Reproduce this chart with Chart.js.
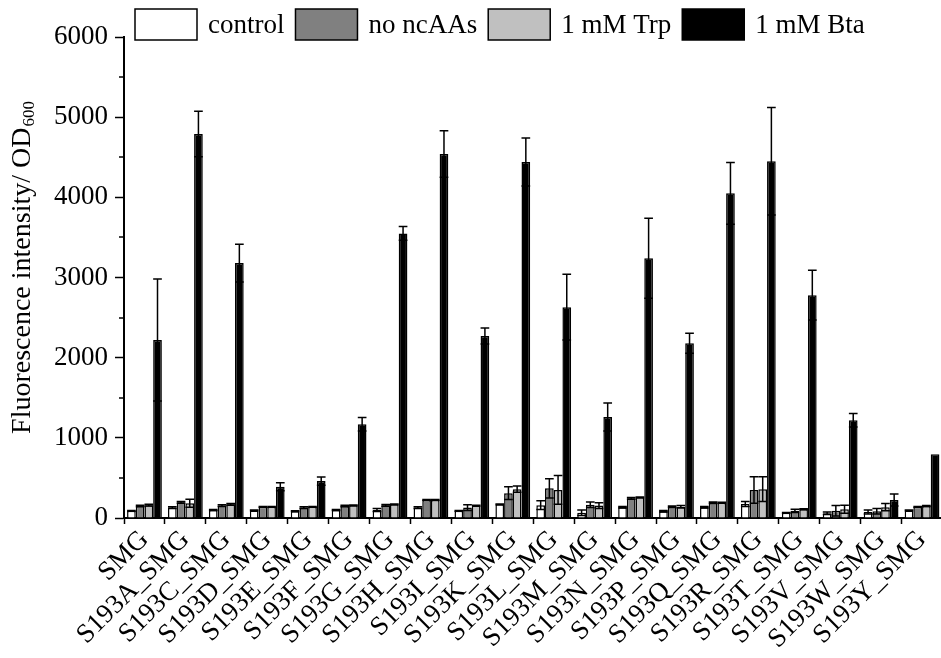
<!DOCTYPE html>
<html>
<head>
<meta charset="utf-8">
<script src="https://cdn.jsdelivr.net/npm/chart.js@4.4.1/dist/chart.umd.min.js"></script>
<style>
  html, body { margin: 0; padding: 0; background: #fff; overflow: hidden; }
  #wrap { width: 945px; height: 658px; }
</style>
</head>
<body>
<div id="wrap"><canvas id="myChart" width="945" height="658"></canvas></div>
<script>
const mutants = [
  "SMG", "S193A_SMG", "S193C_SMG", "S193D_SMG", "S193E_SMG",
  "S193F_SMG", "S193G_SMG", "S193H_SMG", "S193I_SMG", "S193K_SMG",
  "S193L_SMG", "S193M_SMG", "S193N_SMG", "S193P_SMG", "S193Q_SMG",
  "S193R_SMG", "S193T_SMG", "S193V_SMG", "S193W_SMG", "S193Y_SMG",
];
const yTicks = [0, 1000, 2000, 3000, 4000, 5000, 6000];

// fluorescence / OD600, mean and error per mutant
const control = [90, 130, 100, 95, 85, 100, 100, 130, 90, 170, 160, 65, 135, 85, 135, 175, 65, 60, 75, 95];
const controlErr = [5, 10, 5, 5, 5, 5, 20, 10, 5, 5, 55, 35, 10, 10, 10, 30, 5, 15, 25, 5];
const noNcaa = [150, 195, 155, 140, 130, 150, 158, 225, 130, 310, 370, 165, 245, 140, 190, 350, 90, 90, 85, 140];
const noNcaaErr = [10, 10, 10, 5, 10, 10, 10, 5, 35, 80, 120, 35, 10, 10, 10, 165, 20, 65, 35, 5];
const trp = [160, 185, 170, 140, 140, 158, 170, 225, 155, 360, 350, 155, 258, 140, 190, 360, 110, 110, 135, 150];
const trpErr = [10, 50, 10, 5, 5, 5, 5, 5, 5, 40, 180, 35, 5, 15, 5, 155, 5, 50, 45, 5];
const bta = [2220, 4790, 3180, 390, 460, 1170, 3550, 4540, 2270, 4440, 2630, 1260, 3240, 2180, 4050, 4450, 2780, 1220, 225, 795];
const btaErr = [760, 285, 235, 50, 50, 85, 85, 290, 100, 300, 410, 175, 500, 125, 385, 670, 310, 85, 75, 0];

const FONT = "'Liberation Serif', 'Times New Roman', serif";

// symmetric error bars with caps, drawn over every bar
const errorBars = {
  id: "errorBars",
  afterDatasetsDraw(chart) {
    const { ctx } = chart;
    const y = chart.scales.y;
    ctx.save();
    ctx.strokeStyle = "#000";
    ctx.lineWidth = 1.5;
    chart.data.datasets.forEach((ds, i) => {
      chart.getDatasetMeta(i).data.forEach((bar, j) => {
        const err = ds.errors[j];
        if (!err) return;
        const top = y.getPixelForValue(ds.data[j] + err);
        const bottom = y.getPixelForValue(ds.data[j] - err);
        const half = bar.width / 2;
        ctx.beginPath();
        ctx.moveTo(bar.x, top);
        ctx.lineTo(bar.x, bottom);
        ctx.moveTo(bar.x - half, top);
        ctx.lineTo(bar.x + half, top);
        ctx.moveTo(bar.x - half, bottom);
        ctx.lineTo(bar.x + half, bottom);
        ctx.stroke();
      });
    });
    ctx.restore();
  },
};

// small ticks between the labelled ones on the y axis
const minorTicks = {
  id: "minorTicks",
  afterDraw(chart) {
    const { ctx, chartArea } = chart;
    const y = chart.scales.y;
    ctx.save();
    ctx.strokeStyle = "#000";
    ctx.lineWidth = 1.5;
    for (let k = 0; k < yTicks.length - 1; k++) {
      const py = Math.round(y.getPixelForValue((yTicks[k] + yTicks[k + 1]) / 2));
      ctx.beginPath();
      ctx.moveTo(chartArea.left - 5, py);
      ctx.lineTo(chartArea.left, py);
      ctx.stroke();
    }
    ctx.restore();
  },
};

// legend row across the top, boxes with outlines
const legendRow = {
  id: "legendRow",
  afterDraw(chart) {
    const { ctx, chartArea } = chart;
    const w = 62, h = 31, top = 9, gap = 11;
    let x = chartArea.left + gap;
    ctx.save();
    ctx.font = "27px " + FONT;
    ctx.textBaseline = "middle";
    chart.data.datasets.forEach((ds) => {
      ctx.fillStyle = ds.backgroundColor;
      ctx.fillRect(x, top, w, h);
      ctx.strokeStyle = "#000";
      ctx.lineWidth = 1.5;
      ctx.strokeRect(x, top, w, h);
      x += w + gap;
      ctx.fillStyle = "#000";
      ctx.fillText(ds.label, x, top + h / 2 + 1);
      x += ctx.measureText(ds.label).width + gap;
    });
    ctx.restore();
  },
};

// y axis title with subscript
const yTitle = {
  id: "yTitle",
  afterDraw(chart) {
    const { ctx } = chart;
    const main = "Fluorescence intensity/ OD";
    const sub = "600";
    ctx.save();
    ctx.translate(23, 268);
    ctx.rotate(-Math.PI / 2);
    ctx.fillStyle = "#000";
    ctx.textBaseline = "middle";
    ctx.font = "28px " + FONT;
    const w1 = ctx.measureText(main).width;
    ctx.font = "17px " + FONT;
    const w2 = ctx.measureText(sub).width;
    const x0 = -(w1 + w2) / 2;
    ctx.font = "28px " + FONT;
    ctx.fillText(main, x0, 0);
    ctx.font = "17px " + FONT;
    ctx.fillText(sub, x0 + w1 + 1, 7);
    ctx.restore();
  },
};

const ctx = document.getElementById("myChart");

const myChart = new Chart(ctx, {
  type: "bar",
  data: {
    labels: mutants,
    datasets: [
      { label: "control", data: control, errors: controlErr, backgroundColor: "#ffffff" },
      { label: "no ncAAs", data: noNcaa, errors: noNcaaErr, backgroundColor: "#808080" },
      { label: "1 mM Trp", data: trp, errors: trpErr, backgroundColor: "#c0c0c0" },
      { label: "1 mM Bta", data: bta, errors: btaErr, backgroundColor: "#000000" },
    ].map((ds) => ({
      ...ds,
      borderColor: "#000",
      borderWidth: 1.5,
      barPercentage: 1,
      categoryPercentage: 0.85,
    })),
  },
  options: {
    responsive: false,
    animation: false,
    devicePixelRatio: 1,
    layout: { autoPadding: false, padding: { top: 37, right: 2, left: 0, bottom: 0 } },
    plugins: {
      legend: { display: false },
      tooltip: { enabled: false },
    },
    scales: {
      x: {
        ticks: {
          autoSkip: false,
          minRotation: 45,
          maxRotation: 45,
          padding: 0,
          color: "#000",
          font: { family: FONT, size: 27 },
        },
        grid: { drawOnChartArea: false, offset: true, tickLength: 6, tickWidth: 1.5, tickColor: "#000" },
        border: { color: "#000", width: 2 },
        afterFit(scale) { scale.height = 140; },
      },
      y: {
        min: yTicks[0],
        max: yTicks[yTicks.length - 1],
        afterBuildTicks(scale) { scale.ticks = yTicks.map((v) => ({ value: v })); },
        ticks: {
          padding: 7,
          color: "#000",
          font: { family: FONT, size: 27 },
          callback: (value) => String(value),
        },
        grid: { drawOnChartArea: false, tickLength: 9, tickWidth: 1.5, tickColor: "#000" },
        border: { color: "#000", width: 2 },
        afterFit(scale) { scale.width = 124; },
      },
    },
  },
  plugins: [errorBars, minorTicks, legendRow, yTitle],
});
</script>
</body>
</html>
